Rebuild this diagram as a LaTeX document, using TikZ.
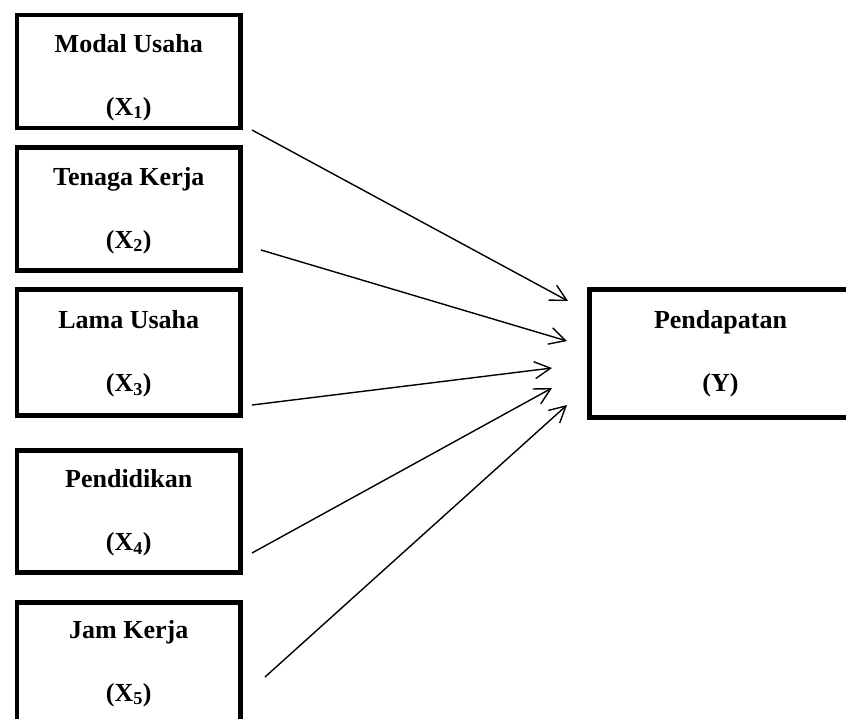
\documentclass[tikz,border=0pt]{standalone}
\usepackage{fontspec}
\setmainfont{Liberation Serif}
\usetikzlibrary{calc,arrows.meta}
\tikzset{
	var/.style={draw, line width=4.5pt, minimum width=223.5pt, inner sep=0pt, align=center, font=\fontsize{26}{63}\selectfont\bfseries},
	panah/.style={line width=1.4pt, -{Straight Barb[length=16pt, width=17pt]}}
}
\newcommand{\isi}[3][21pt]{\rule{0pt}{#1}#2\\#3\rule[-6pt]{0pt}{6pt}}

\begin{document}
\begin{tikzpicture}[x=1pt, y=-1pt]
			%%%%% START %%%%%
			
			\useasboundingbox (0, 0) rectangle (846, 718);
			\clip (0, 0) rectangle (846, 718);
			
			\node[var, minimum height=113pt] (modal) at (128.75, 71.5) {\isi[30pt]{Modal Usaha}{(X\textsubscript{1})}};
			\node[var, minimum height=123pt] (tenaga) at (128.75, 209) {\isi{Tenaga Kerja}{(X\textsubscript{2})}};
			\node[var, minimum height=126pt] (lama) at (128.75, 352.5) {\isi{Lama Usaha}{(X\textsubscript{3})}};
			\node[var, minimum height=122pt] (didik) at (128.75, 511.5) {\isi{Pendidikan}{(X\textsubscript{4})}};
			\node[var, minimum height=119.5pt] (jam) at (128.75, 662.25) {\isi{Jam Kerja}{(X\textsubscript{5})}};
			
			\node[var, minimum width=262pt, minimum height=128pt] (dapat) at (720.5, 353.5) {\isi[16pt]{Pendapatan}{(Y)}};
			
			\draw[panah] ($(modal)+(123.25, 58.5)$) -- ($(dapat)+(-152.5, -52.5)$);
			\draw[panah] ($(tenaga)+(132.25, 41)$) -- ($(dapat)+(-153.5, -12.5)$);
			\draw[panah] ($(lama)+(123.25, 52.5)$) -- ($(dapat)+(-168.5, 14.5)$);
			\draw[panah] ($(didik)+(123.25, 41.5)$) -- ($(dapat)+(-168.5, 34.5)$);
			\draw[panah] ($(jam)+(136.25, 14.75)$) -- ($(dapat)+(-153.5, 51.5)$);
			
			%%%%% END %%%%%
\end{tikzpicture}
\end{document}
